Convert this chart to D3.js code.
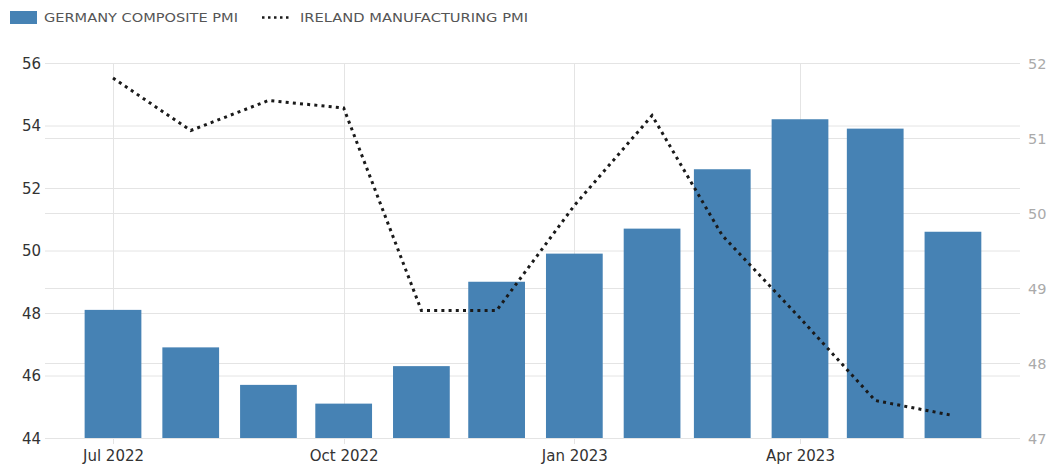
<!DOCTYPE html>
<html>
<head>
<meta charset="utf-8">
<script src="https://cdn.jsdelivr.net/npm/d3@7"></script>
<style>
  html, body { margin: 0; padding: 0; background: #fff; }
  svg { display: block; }
</style>
</head>
<body>
<svg id="chart" width="1048" height="465"></svg>
<script>
// Monthly readings, Jul 2022 – Jun 2023
const months = ["2022-07", "2022-08", "2022-09", "2022-10", "2022-11", "2022-12",
                "2023-01", "2023-02", "2023-03", "2023-04", "2023-05", "2023-06"];
const germanyComposite = [48.1, 46.9, 45.7, 45.1, 46.3, 49.0, 49.9, 50.7, 52.6, 54.2, 53.9, 50.6];
const irelandManufacturing = [51.8, 51.1, 51.5, 51.4, 48.7, 48.7, 50.1, 51.3, 49.7, 48.6, 47.5, 47.3];
const leftTicks = [44, 46, 48, 50, 52, 54, 56];
const rightTicks = [47, 48, 49, 50, 51, 52];
const quarterTicks = ["2022-07", "2022-10", "2023-01", "2023-04"];
const seriesNames = ["GERMANY COMPOSITE PMI", "IRELAND MANUFACTURING PMI"];

const parse = d3.timeParse("%Y-%m");
const dates = months.map(parse);

const svg = d3.select("#chart");
const font = "'DejaVu Sans', sans-serif";

const plotLeft = 45, plotRight = 1020, plotTop = 63, plotBottom = 438;

const x = d3.scaleTime()
  .domain([parse("2022-07"), parse("2023-04")])
  .range([113, 800]);

const yL = d3.scaleLinear().domain([44, 56]).range([plotBottom, plotTop]);
const yR = d3.scaleLinear().domain([47, 52]).range([plotBottom, plotTop]);

// Gridlines for both value axes
const grid = svg.append("g");
grid.selectAll("line.gl").data(leftTicks).join("line")
  .attr("x1", plotLeft).attr("x2", plotRight)
  .attr("y1", d => yL(d) + 0.5).attr("y2", d => yL(d) + 0.5)
  .attr("stroke", "#e4e4e4").attr("stroke-width", 1);
grid.selectAll("line.gr").data(rightTicks).join("line")
  .attr("x1", plotLeft).attr("x2", plotRight)
  .attr("y1", d => yR(d) + 0.5).attr("y2", d => yR(d) + 0.5)
  .attr("stroke", "#e4e4e4").attr("stroke-width", 1);
grid.selectAll("line.gx").data(quarterTicks.map(parse)).join("line")
  .attr("x1", d => Math.round(x(d)) + 0.5).attr("x2", d => Math.round(x(d)) + 0.5)
  .attr("y1", plotTop).attr("y2", plotBottom + 6)
  .attr("stroke", "#e4e4e4").attr("stroke-width", 1);

// Bars: Germany composite PMI on the left scale
const step = x(dates[1]) - x(dates[0]);
const barW = step * 0.73;
svg.append("g").selectAll("rect").data(germanyComposite).join("rect")
  .attr("x", (d, i) => x(dates[i]) - barW / 2)
  .attr("width", barW)
  .attr("y", d => yL(d))
  .attr("height", d => yL(44) - yL(d))
  .attr("fill", "#4682b4");

// Dotted line: Ireland manufacturing PMI on the right scale
const line = d3.line()
  .x((d, i) => x(dates[i]))
  .y(d => yR(d));
svg.append("path")
  .datum(irelandManufacturing)
  .attr("d", line)
  .attr("fill", "none")
  .attr("stroke", "#1a1a1a")
  .attr("stroke-width", 3)
  .attr("stroke-dasharray", "3,4.2");

// Left axis labels
const axL = svg.append("g").attr("transform", `translate(${plotLeft - 4},0)`)
  .call(d3.axisLeft(yL).tickValues(leftTicks).tickFormat(d3.format("d"))
    .tickSize(0).tickPadding(0));
axL.select(".domain").remove();
axL.selectAll("text").attr("font-family", font).attr("font-size", 15)
  .attr("fill", "#333").attr("dy", "0.35em");

// Right axis labels
const axR = svg.append("g").attr("transform", `translate(${plotRight + 8},0)`)
  .call(d3.axisRight(yR).tickValues(rightTicks).tickFormat(d3.format("d"))
    .tickSize(0).tickPadding(0));
axR.select(".domain").remove();
axR.selectAll("text").attr("font-family", font).attr("font-size", 14.5)
  .attr("fill", "#aaa").attr("dy", "0.35em");

// Bottom axis labels
const axB = svg.append("g").attr("transform", `translate(0,${plotBottom})`)
  .call(d3.axisBottom(x).tickValues(quarterTicks.map(parse))
    .tickFormat(d3.timeFormat("%b %Y")).tickSize(0).tickPadding(12));
axB.select(".domain").remove();
axB.selectAll("text").attr("font-family", font).attr("font-size", 15)
  .attr("fill", "#333");

// Legend
const legend = svg.append("g");
legend.append("rect").attr("x", 10).attr("y", 11).attr("width", 27).attr("height", 13)
  .attr("fill", "#4682b4");
legend.append("text").attr("x", 44).attr("y", 22).text(seriesNames[0])
  .attr("font-family", font).attr("font-size", 12.5).attr("fill", "#555")
  .attr("textLength", 194).attr("lengthAdjust", "spacingAndGlyphs");
legend.append("line").attr("x1", 262).attr("x2", 292).attr("y1", 17.5).attr("y2", 17.5)
  .attr("stroke", "#1a1a1a").attr("stroke-width", 2.5).attr("stroke-dasharray", "2.5,3.5");
legend.append("text").attr("x", 300).attr("y", 22).text(seriesNames[1])
  .attr("font-family", font).attr("font-size", 12.5).attr("fill", "#555")
  .attr("textLength", 228).attr("lengthAdjust", "spacingAndGlyphs");
</script>
</body>
</html>
